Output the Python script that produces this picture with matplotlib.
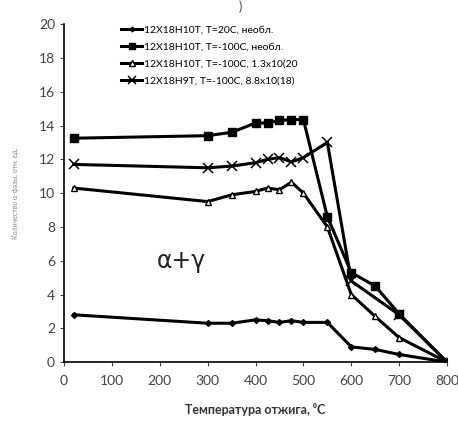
import matplotlib
matplotlib.use("Agg")
import matplotlib.pyplot as plt

# annealing temperature, C
t_20c = [20, 300, 350, 400, 425, 450, 475, 500, 550, 600, 650, 700, 800]
phase_20c = [2.8, 2.3, 2.3, 2.5, 2.45, 2.35, 2.45, 2.35, 2.35, 0.9, 0.75, 0.45, 0.0]

t_m100 = [20, 300, 350, 400, 425, 450, 475, 500, 550, 600, 650, 700, 800]
phase_m100 = [13.25, 13.4, 13.6, 14.15, 14.15, 14.3, 14.35, 14.35, 8.6, 5.3, 4.5, 2.85, 0.0]

t_irr20 = [20, 300, 350, 400, 425, 450, 475, 500, 550, 600, 650, 700, 800]
phase_irr20 = [10.3, 9.5, 9.9, 10.1, 10.3, 10.2, 10.65, 10.0, 8.0, 4.0, 2.7, 1.45, 0.0]

t_irr18 = [20, 300, 350, 400, 425, 450, 475, 500, 550, 600, 700, 800]
phase_irr18 = [11.7, 11.5, 11.6, 11.8, 12.0, 12.1, 11.85, 12.1, 13.0, 4.8, 2.8, 0.0]

labels = [
    "12X18H10T, T=20C, необл.",
    "12X18H10T, T=-100C, необл.",
    "12X18H10T, T=-100C, 1.3x10(20",
    "12X18H9T, T=-100C, 8.8x10(18)",
]

plt.rcParams.update({"font.family": ["Lato", "DejaVu Sans"], "font.size": 9})

fig = plt.figure(figsize=(4.58, 4.24), dpi=100)
ax = fig.add_axes([0.14, 0.146, 0.836, 0.797])

ax.plot(t_20c, phase_20c, color="black", linewidth=2.2, marker="D", markersize=3,
        label=labels[0])
ax.plot(t_m100, phase_m100, color="black", linewidth=2.2, marker="s", markersize=6,
        label=labels[1])
ax.plot(t_irr20, phase_irr20, color="black", linewidth=2.2, marker="^", markersize=5,
        markerfacecolor="white", markeredgewidth=1.0, label=labels[2])
ax.plot(t_irr18, phase_irr18, color="black", linewidth=2.2, marker="x", markersize=6.5,
        markeredgewidth=1.1, label=labels[3])

ax.text(245, 6.0, "α+γ", fontsize=17, ha="center", va="center", color="#222222",
        family="DejaVu Sans")

ax.set_xlim(0, 800)
ax.set_ylim(0, 20)
ax.set_xticks(range(0, 801, 100))
ax.set_yticks(range(0, 21, 2))
ax.tick_params(direction="out", length=3, colors="#444444", labelsize=10)
ax.tick_params(axis="x", pad=6)
ax.spines["top"].set_visible(False)
ax.spines["right"].set_visible(False)
ax.spines["left"].set_linewidth(1.2)
ax.spines["bottom"].set_linewidth(1.2)

ax.set_xlabel("Температура отжига, ⁰C", fontsize=9, fontweight="bold", labelpad=12,
              color="#333333")
ax.set_ylabel("Количество α-фазы, отн. ед.", fontsize=5, color="#888888", labelpad=14)

leg = ax.legend(loc="upper left", bbox_to_anchor=(0.125, 1.025), frameon=False, fontsize=7.5,
                handlelength=2.0, labelspacing=0.75, handletextpad=0.15)
for handle in leg.legend_handles:
    handle.set_markersize(handle.get_markersize() * 0.8)

fig.text(0.525, 0.985, ")", fontsize=9, ha="center", va="center", color="#444444")

fig.savefig("out.png", dpi=100, facecolor="white")
